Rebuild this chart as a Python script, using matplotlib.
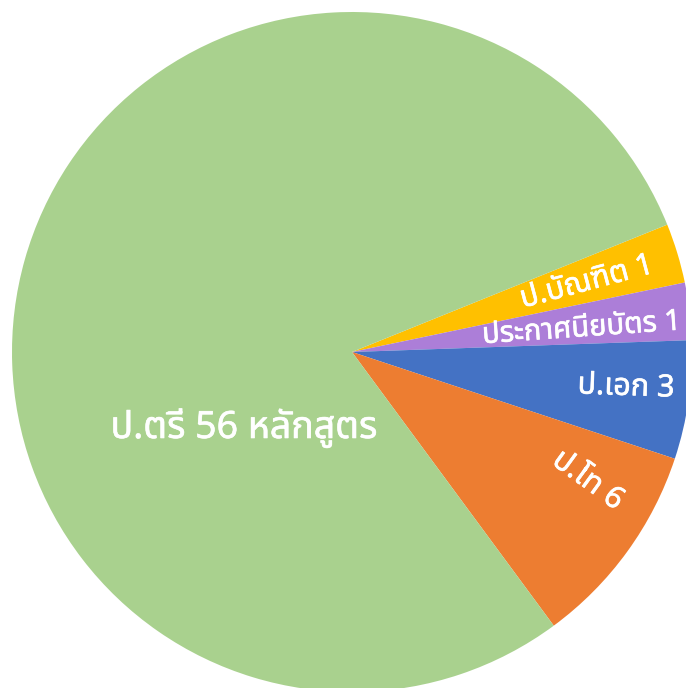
import matplotlib
matplotlib.use("Agg")
import matplotlib.pyplot as plt
import matplotlib.patheffects as pe

# slices listed clockwise, starting from the top edge of the yellow one
labels = ["ป.บัณฑิต 1", "ประกาศนียบัตร 1", "ป.เอก 3", "ป.โท 6", "ป.ตรี 56 หลักสูตร"]
# slice sizes as drawn in the picture (degrees of the circle)
shares = [10.2, 9.8, 20.3, 35.3, 284.4]
colors = ["#FFC000", "#AC7ED8", "#4472C4", "#ED7D31", "#A9D18E"]

# label placement: (x, y, rotation) in data units of the unit pie
label_pos = [(0.691, 0.205, 15), (0.676, 0.068, 4), (0.806, -0.103, -2),
             (0.694, -0.378, -36), (-0.318, -0.224, 0)]
label_size = [22, 21, 22, 22, 27]

plt.rcParams['font.family'] = ['Noto Sans Thai', 'DejaVu Sans']

fig = plt.figure(figsize=(6.86, 6.88), dpi=100)
ax = fig.add_axes([0, 0, 1, 1])
ax.pie(shares, colors=colors, startangle=22, counterclock=False,
       radius=1.0, wedgeprops=dict(linewidth=0))

bold = [pe.withStroke(linewidth=0.45, foreground="white")]
for lab, (x, y, rot), fs in zip(labels, label_pos, label_size):
    ax.text(x, y, lab, color="white", fontsize=fs, rotation=rot,
            ha="center", va="center", rotation_mode="anchor",
            path_effects=bold)

ax.set_xlim(-352 / 340, 334 / 340)
ax.set_ylim(-336 / 340, 352 / 340)
ax.set_aspect("auto")
ax.axis("off")
fig.savefig("out.png", dpi=100)
